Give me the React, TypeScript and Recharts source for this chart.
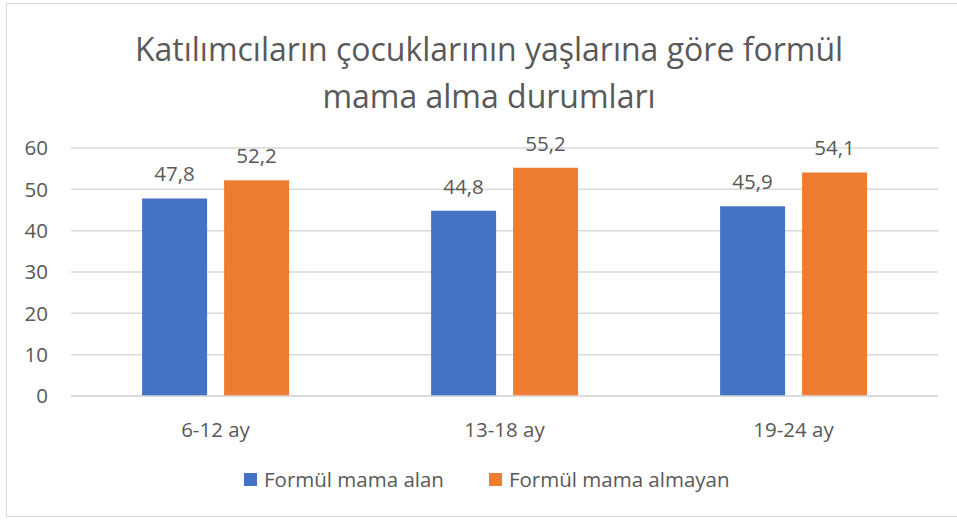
import React from 'react';
import { BarChart, Bar, XAxis, YAxis, CartesianGrid, LabelList } from 'recharts';

const categories = ['6-12 ay', '13-18 ay', '19-24 ay'];
const alan = [47.8, 44.8, 45.9];
const almayan = [52.2, 55.2, 54.1];
const yTicks = [0, 10, 20, 30, 40, 50, 60];

const seriesNames = ['Formül mama alan', 'Formül mama almayan'];
const seriesColors = ['#4472c4', '#ed7d31'];

const FONT = '"Open Sans", sans-serif';
const TEXT = '#595959';
const FS = 20.5;

const data = categories.map((name, i) => ({ name, alan: alan[i], almayan: almayan[i] }));

const fmt = (v: any) => (typeof v === 'number' ? v.toFixed(1).replace('.', ',') : '');

export default function App() {
  return (
    <div style={{ position: 'fixed', left: 0, top: 0, width: 957, height: 520, background: '#fff', fontFamily: FONT }}>
      {/* chart frame */}
      <div style={{ position: 'absolute', left: 6, top: 3, width: 960, height: 514, border: '1px solid #d9d9d9', boxSizing: 'border-box' }} />

      {/* Title */}
      <div style={{
        position: 'absolute',
        left: 0,
        width: 978,
        top: 25,
        textAlign: 'center',
        fontSize: 32,
        lineHeight: '47px',
        color: TEXT
      }}>
        Katılımcıların çocuklarının yaşlarına göre formül<br />mama alma durumları
      </div>

      <div style={{ position: 'absolute', left: 0, top: 0 }}>
        <BarChart
          width={957}
          height={520}
          data={data}
          margin={{ top: 148, right: 19, bottom: 0, left: 0 }}
          barCategoryGap="24.6%"
          barGap={17}
        >
          <CartesianGrid vertical={false} stroke="#d9d9d9" strokeWidth={1.5} />
          <XAxis
            dataKey="name"
            axisLine={{ stroke: '#d9d9d9', strokeWidth: 1.5 }}
            tickLine={false}
            tickMargin={20}
            tick={{ fill: TEXT, fontSize: FS, fontFamily: FONT }}
            height={124}
          />
          <YAxis
            width={71}
            domain={[0, 60]}
            ticks={yTicks}
            interval={0}
            axisLine={false}
            tickLine={false}
            tickMargin={17}
            tick={{ fill: TEXT, fontSize: FS, fontFamily: FONT }}
          />
          <Bar dataKey="alan" name={seriesNames[0]} fill={seriesColors[0]} isAnimationActive={false}>
            <LabelList dataKey="alan" position="top" offset={17} formatter={fmt} style={{ fill: TEXT, fontSize: FS, fontFamily: FONT }} />
          </Bar>
          <Bar dataKey="almayan" name={seriesNames[1]} fill={seriesColors[1]} isAnimationActive={false}>
            <LabelList dataKey="almayan" position="top" offset={17} formatter={fmt} style={{ fill: TEXT, fontSize: FS, fontFamily: FONT }} />
          </Bar>
        </BarChart>
      </div>

      {/* Legend */}
      <div style={{ position: 'absolute', left: 244, top: 465, display: 'flex', alignItems: 'center', fontSize: FS, color: TEXT }}>
        {seriesNames.map((n, i) => (
          <div key={n} style={{ display: 'flex', alignItems: 'center', marginRight: 45 }}>
            <span style={{ display: 'inline-block', width: 13, height: 13, background: seriesColors[i], marginRight: 7 }} />
            <span style={{ lineHeight: '28px' }}>{n}</span>
          </div>
        ))}
      </div>
    </div>
  );
}
